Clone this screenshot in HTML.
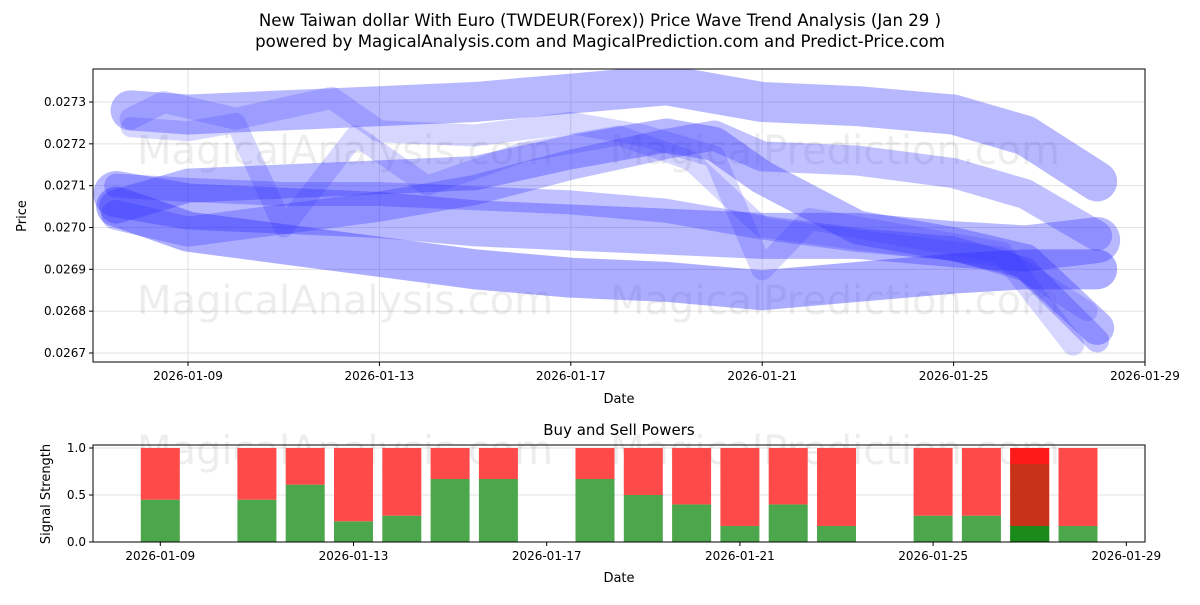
<!DOCTYPE html>
<html><head><meta charset="utf-8"><style>
body{margin:0;background:#fff;font-family:"Liberation Sans","DejaVu Sans",sans-serif}
svg text{font-family:"DejaVu Sans","Liberation Sans",sans-serif}
</style></head><body>
<svg id="chart" width="1200" height="600" xmlns="http://www.w3.org/2000/svg">
<text x="600" y="26" text-anchor="middle" font-size="16.6">New Taiwan dollar With Euro (TWDEUR(Forex)) Price Wave Trend Analysis (Jan 29 )</text>
<text x="600" y="47" text-anchor="middle" font-size="16.6">powered by MagicalAnalysis.com and MagicalPrediction.com and Predict-Price.com</text>
<g id="topPanel"></g>
<g id="botPanel"></g>
</svg>
<script>
const NS='http://www.w3.org/2000/svg';
// price chart data (day of Jan 2026, price)
const waveDays=[
 [7.8,9,11,13,15,17,19,21,23,25,26.5,28],
 [7.5,9,11,13,15,17,19,20,21,23,25,26.5,28],
 [7.5,9,11,13,15,17,19,20,21,23,25,26.5,28],
 [7.5,9,11,13,15,17,19,21,23,25,26.5,28],
 [7.5,9,11,13,15,17,19,21,23,25,26.5,28],
 [7.5,9,11,13,15,17,19,20,21,23,25,26.5,28],
 [7.8,8.5,10,12,13,15,17,18.5,20,21,22,24,26,27.5],
 [7.8,9,10,11,12.5,14,16,18,19.5,21,23,26,27.8]
];
const wavePrices=[
 [0.02728,0.02727,0.02728,0.02729,0.02730,0.02732,0.02734,0.02730,0.02729,0.02727,0.02722,0.02711],
 [0.02705,0.02710,0.02711,0.02712,0.02713,0.02718,0.02722,0.02720,0.02712,0.02700,0.02696,0.02692,0.02676],
 [0.02703,0.02699,0.02702,0.02705,0.02709,0.02715,0.02720,0.02722,0.02717,0.02716,0.02713,0.02708,0.02698],
 [0.02705,0.02699,0.02696,0.02693,0.02690,0.02688,0.02687,0.02685,0.02687,0.02689,0.02690,0.02690],
 [0.02708,0.02705,0.02704,0.02703,0.02701,0.02700,0.02699,0.02698,0.02698,0.02696,0.02695,0.02697],
 [0.02710,0.02709,0.02708,0.02708,0.02707,0.02706,0.02704,0.02702,0.02700,0.02697,0.02695,0.02690,0.02673],
 [0.02726,0.02730,0.02726,0.02731,0.02723,0.02722,0.02725,0.02722,0.02717,0.02690,0.02702,0.02698,0.02694,0.02672],
 [0.02724,0.02723,0.02725,0.02700,0.02722,0.02710,0.02718,0.02722,0.02716,0.02700,0.02697,0.02693,0.02680]
];
const waveWidths=[40,34,30,40,46,24,22,20];
const waveOpac=[0.35,0.35,0.3,0.4,0.35,0.3,0.2,0.2];
const priceTicks=[0.0267,0.0268,0.0269,0.0270,0.0271,0.0272,0.0273];
const dateTicks=['2026-01-09','2026-01-13','2026-01-17','2026-01-21','2026-01-25','2026-01-29'];
const dateTickDays=[9,13,17,21,25,29];
// signal chart data
const barDays=[9,11,12,13,14,15,16,18,19,20,21,22,23,25,26,27,28];
const buyPower=[0.45,0.45,0.61,0.22,0.28,0.67,0.67,0.67,0.5,0.4,0.17,0.4,0.17,0.28,0.28,0.17,0.17];
const sigTicks=[0.0,0.5,1.0];

function el(p,t,a){const e=document.createElementNS(NS,t);for(const k in a)e.setAttribute(k,a[k]);p.appendChild(e);return e;}
const topG=document.getElementById('topPanel'),botG=document.getElementById('botPanel');
const TX0=93,TX1=1145,TY0=69,TY1=362;
const tx=d=>188+(d-9)*(1145-188)/20;
const ty=v=>102+(0.0273-v)*(353-102)/0.0006;
const BY0=445,BY1=542;
const bx=d=>160.3+(d-9)*48.3;
const by=v=>542-v*(542-448)/1;

priceTicks.forEach(v=>{el(topG,'line',{x1:TX0,x2:TX1,y1:ty(v),y2:ty(v),stroke:'#e0e0e0','stroke-width':1});});
dateTickDays.forEach(d=>{el(topG,'line',{x1:tx(d),x2:tx(d),y1:TY0,y2:TY1,stroke:'#e0e0e0','stroke-width':1});});
[[345,150],[835,150],[345,300],[835,300]].forEach((p,i)=>{const t=el(topG,'text',{x:p[0],y:p[1]+14,'text-anchor':'middle','font-size':40,fill:'#000','fill-opacity':0.07});t.textContent=i%2?'MagicalPrediction.com':'MagicalAnalysis.com';

});
const clip=el(topG,'clipPath',{id:'cp'});el(clip,'rect',{x:TX0,y:TY0,width:TX1-TX0,height:TY1-TY0});
const wg=el(topG,'g',{'clip-path':'url(#cp)'});
waveDays.forEach((ds,i)=>{
 const pts=ds.map((d,j)=>tx(d)+','+ty(wavePrices[i][j])).join(' ');
 const pl=el(wg,'polyline',{points:pts,fill:'none',stroke:'#3333ff','stroke-opacity':waveOpac[i],'stroke-width':waveWidths[i],'stroke-linecap':'round','stroke-linejoin':'round'});
 
 
});
el(topG,'rect',{x:TX0,y:TY0,width:TX1-TX0,height:TY1-TY0,fill:'none',stroke:'#000','stroke-width':1});
priceTicks.forEach(v=>{el(topG,'line',{x1:TX0-4,x2:TX0,y1:ty(v),y2:ty(v),stroke:'#000'});const t=el(topG,'text',{x:TX0-7,y:ty(v)+4,'text-anchor':'end','font-size':12});t.textContent=v.toFixed(4);

});
dateTickDays.forEach((d,i)=>{el(topG,'line',{x1:tx(d),x2:tx(d),y1:TY1,y2:TY1+4,stroke:'#000'});const t=el(topG,'text',{x:tx(d),y:TY1+18,'text-anchor':'middle','font-size':12});t.textContent=dateTicks[i];

});
let t=el(topG,'text',{x:619,y:403,'text-anchor':'middle','font-size':13});t.textContent='Date';

t=el(topG,'text',{x:26,y:216,'text-anchor':'middle','font-size':13,transform:'rotate(-90 26 216)'});t.textContent='Price';


t=el(botG,'text',{x:619,y:435,'text-anchor':'middle','font-size':15});t.textContent='Buy and Sell Powers';

sigTicks.forEach(v=>{el(botG,'line',{x1:TX0,x2:TX1,y1:by(v),y2:by(v),stroke:'#e0e0e0'});});
[[345,450],[835,450]].forEach((p,i)=>{const w=el(botG,'text',{x:p[0],y:p[1]+14,'text-anchor':'middle','font-size':40,fill:'#000','fill-opacity':0.07});w.textContent=i?'MagicalPrediction.com':'MagicalAnalysis.com';
});
const bw=39;
barDays.forEach((d,i)=>{
 const x=bx(d)-bw/2;
 const g=el(botG,'rect',{x:x,y:by(buyPower[i]),width:bw,height:by(0)-by(buyPower[i]),fill:'#4ca64c'});
 
 const r=el(botG,'rect',{x:x,y:by(1),width:bw,height:by(buyPower[i])-by(1),fill:'#ff4a4a'});
 
 if(d===27){
  el(botG,'rect',{x:x,y:by(buyPower[i]),width:bw,height:by(0)-by(buyPower[i]),fill:'#1a8a1a'});
  el(botG,'rect',{x:x,y:by(1-buyPower[i]),width:bw,height:by(buyPower[i])-by(1-buyPower[i]),fill:'#c83218'});
  el(botG,'rect',{x:x,y:by(1),width:bw,height:by(1-buyPower[i])-by(1),fill:'#ff1a1a'});
 }
});
el(botG,'rect',{x:TX0,y:BY0,width:TX1-TX0,height:BY1-BY0,fill:'none',stroke:'#000'});
sigTicks.forEach(v=>{el(botG,'line',{x1:TX0-4,x2:TX0,y1:by(v),y2:by(v),stroke:'#000'});const s=el(botG,'text',{x:TX0-7,y:by(v)+4,'text-anchor':'end','font-size':12});s.textContent=v.toFixed(1);
});
dateTickDays.forEach((d,i)=>{el(botG,'line',{x1:bx(d),x2:bx(d),y1:BY1,y2:BY1+4,stroke:'#000'});const s=el(botG,'text',{x:bx(d),y:BY1+18,'text-anchor':'middle','font-size':12});s.textContent=dateTicks[i];
});
t=el(botG,'text',{x:619,y:582,'text-anchor':'middle','font-size':13});t.textContent='Date';

t=el(botG,'text',{x:50,y:494,'text-anchor':'middle','font-size':13,transform:'rotate(-90 50 494)'});t.textContent='Signal Strength';

</script>
</body></html>
